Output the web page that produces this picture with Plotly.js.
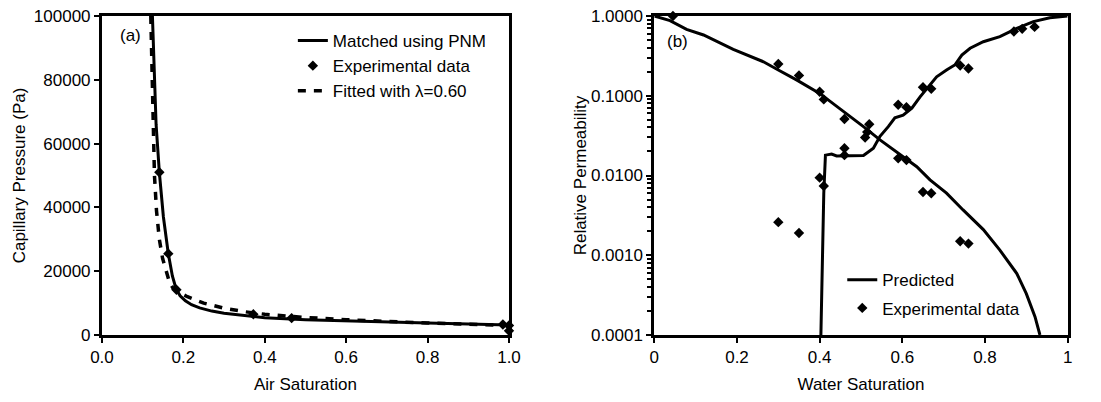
<!DOCTYPE html>
<html><head><meta charset="utf-8">
<script src="https://cdn.plot.ly/plotly-3.0.1.min.js"></script>
<style>body{margin:0;background:#fff}#chart{width:1101px;height:402px}</style>
</head><body><div id="chart"></div>
<script>
// Panel (a): capillary pressure vs air saturation
const pnmSa = [0.124, 0.128, 0.133, 0.141, 0.151, 0.163, 0.173, 0.182, 0.192, 0.205, 0.22, 0.24, 0.27, 0.3, 0.35, 0.4, 0.5, 0.6, 0.7, 0.8, 0.9, 1.0];
const pnmPc = [100000, 82000, 66000, 51000, 37000, 25500, 18500, 14500, 12300, 10700, 9500, 8500, 7500, 6800, 6000, 5400, 4800, 4400, 4100, 3800, 3450, 3100];
const expSa = [0.141, 0.163, 0.183, 0.372, 0.466, 0.985, 1.0, 1.0];
const expPc = [51000, 25500, 14200, 6500, 5300, 3300, 3000, 1300];
const fitSa = [0.120, 0.122, 0.125, 0.129, 0.134, 0.141, 0.149, 0.158, 0.166, 0.175, 0.19, 0.21, 0.25, 0.3, 0.35, 0.4, 0.5, 0.6, 0.7, 0.8, 0.9, 1.0];
const fitPc = [100000, 88000, 70000, 50000, 39000, 30000, 24000, 19500, 16500, 14600, 13300, 12000, 10000, 8400, 7300, 6500, 5500, 4800, 4200, 3750, 3350, 3000];

// Panel (b): relative permeability vs water saturation
const krnwSw = [0.0, 0.038, 0.078, 0.119, 0.191, 0.264, 0.30, 0.344, 0.40, 0.433, 0.465, 0.506, 0.546, 0.586, 0.635, 0.667, 0.707, 0.747, 0.796, 0.836, 0.877, 0.90, 0.921, 0.933];
const krnwKr = [1.0, 0.874, 0.68, 0.578, 0.382, 0.267, 0.21, 0.158, 0.107, 0.080, 0.060, 0.041, 0.028, 0.020, 0.0129, 0.0088, 0.006, 0.0037, 0.0021, 0.00116, 0.00059, 0.00033, 0.00017, 0.0001];
const krwSw = [0.403, 0.41, 0.414, 0.429, 0.441, 0.506, 0.53, 0.546, 0.566, 0.582, 0.602, 0.623, 0.643, 0.663, 0.683, 0.707, 0.727, 0.744, 0.764, 0.796, 0.836, 0.877, 0.917, 0.957, 1.0];
const krwKr = [0.0001, 0.006, 0.018, 0.0186, 0.0176, 0.0178, 0.022, 0.031, 0.041, 0.053, 0.057, 0.070, 0.097, 0.13, 0.173, 0.21, 0.243, 0.324, 0.394, 0.476, 0.55, 0.70, 0.85, 0.95, 1.0];
const expSw = [0.045, 0.30, 0.35, 0.40, 0.41, 0.46, 0.46, 0.46, 0.51, 0.515, 0.52, 0.59, 0.61, 0.59, 0.61, 0.65, 0.67, 0.65, 0.67, 0.74, 0.76, 0.74, 0.76, 0.87, 0.89, 0.92, 0.40, 0.41, 0.30, 0.35];
const expKr = [1.0, 0.25, 0.18, 0.112, 0.090, 0.051, 0.022, 0.018, 0.030, 0.035, 0.044, 0.077, 0.072, 0.0164, 0.0156, 0.128, 0.122, 0.0062, 0.0060, 0.24, 0.22, 0.0015, 0.0014, 0.64, 0.69, 0.73, 0.0094, 0.0074, 0.0026, 0.0019];

const xTicksA = [0, 0.2, 0.4, 0.6, 0.8, 1.0];
const yTicksA = [0, 20000, 40000, 60000, 80000, 100000];
const xTicksB = [0, 0.2, 0.4, 0.6, 0.8, 1];
const yTicksB = [0.0001, 0.001, 0.01, 0.1, 1];
const yTickTextB = ['0.0001', '0.0010', '0.0100', '0.1000', '1.0000'];
const yMinorB = [0.0002,0.0003,0.0004,0.0005,0.0006,0.0007,0.0008,0.0009,
                 0.002,0.003,0.004,0.005,0.006,0.007,0.008,0.009,
                 0.02,0.03,0.04,0.05,0.06,0.07,0.08,0.09,
                 0.2,0.3,0.4,0.5,0.6,0.7,0.8,0.9];

const FONT = 'Liberation Sans, Arial, sans-serif';
const FS = 17;

const traces = [
  {x: pnmSa, y: pnmPc, xaxis: 'x', yaxis: 'y', mode: 'lines', name: 'Matched using PNM',
   line: {color: '#000', width: 3}, legend: 'legend', legendgroup: 'a1'},
  {x: expSa, y: expPc, xaxis: 'x', yaxis: 'y', mode: 'markers', name: 'Experimental data',
   marker: {symbol: 'diamond', size: 8, color: '#000'}, cliponaxis: false, legend: 'legend', legendgroup: 'a2'},
  {x: fitSa, y: fitPc, xaxis: 'x', yaxis: 'y', mode: 'lines', name: 'Fitted with λ=0.60',
   line: {color: '#000', width: 3.5, dash: '8px,8px'}, legend: 'legend', legendgroup: 'a3'},
  {x: krnwSw, y: krnwKr, xaxis: 'x2', yaxis: 'y2', mode: 'lines', name: 'Predicted',
   line: {color: '#000', width: 3}, legend: 'legend2', legendgroup: 'b1'},
  {x: krwSw, y: krwKr, xaxis: 'x2', yaxis: 'y2', mode: 'lines', name: 'Predicted', showlegend: false,
   line: {color: '#000', width: 3}, legend: 'legend2', legendgroup: 'b1'},
  {x: expSw, y: expKr, xaxis: 'x2', yaxis: 'y2', mode: 'markers', name: 'Experimental data',
   marker: {symbol: 'diamond', size: 8, color: '#000'}, cliponaxis: false, legend: 'legend2', legendgroup: 'b2'}
];

const axCommon = {
  showline: true, linewidth: 3, linecolor: '#000', mirror: true,
  ticks: 'outside', ticklen: 5, tickwidth: 2, tickcolor: '#000',
  showgrid: false, zeroline: false,
  tickfont: {family: FONT, size: FS, color: '#000'}
};

const layout = {
  width: 1101, height: 402,
  margin: {l: 0, r: 0, t: 16, b: 67},
  paper_bgcolor: '#fff', plot_bgcolor: '#fff',
  font: {family: FONT, size: FS, color: '#000'},
  xaxis: Object.assign({}, axCommon, {
    domain: [0.0926, 0.4623], anchor: 'y', range: [0, 1],
    tickmode: 'array', tickvals: xTicksA, tickformat: '.1f',
    title: {text: 'Air Saturation', font: {family: FONT, size: FS, color: '#000'}, standoff: 12}
  }),
  yaxis: Object.assign({}, axCommon, {
    domain: [0, 1], anchor: 'x', range: [0, 100000],
    tickmode: 'array', tickvals: yTicksA, tickformat: 'd',
    title: {text: 'Capillary Pressure (Pa)', font: {family: FONT, size: FS, color: '#000'}, standoff: 4}
  }),
  xaxis2: Object.assign({}, axCommon, {
    domain: [0.5943, 0.9697], anchor: 'y2', range: [0, 1],
    tickmode: 'array', tickvals: xTicksB,
    title: {text: 'Water Saturation', font: {family: FONT, size: FS, color: '#000'}, standoff: 12}
  }),
  yaxis2: Object.assign({}, axCommon, {
    domain: [0, 1], anchor: 'x2', type: 'log', range: [-4, 0],
    tickmode: 'array', tickvals: yTicksB, ticktext: yTickTextB,
    minor: {ticks: 'outside', ticklen: 4, tickwidth: 2, tickcolor: '#000', tickmode: 'array', tickvals: yMinorB},
    title: {text: 'Relative Permeability', font: {family: FONT, size: FS, color: '#000'}, standoff: 0}
  }),
  legend: {x: 0.266, y: 0.978, xanchor: 'left', yanchor: 'top', bgcolor: 'rgba(0,0,0,0)',
           font: {family: FONT, size: FS, color: '#000'}, traceorder: 'grouped', tracegroupgap: 0},
  legend2: {x: 0.765, y: 0.228, xanchor: 'left', yanchor: 'top', bgcolor: 'rgba(0,0,0,0)',
           font: {family: FONT, size: FS, color: '#000'}, traceorder: 'grouped', tracegroupgap: 3},
  annotations: [
    {text: '(a)', xref: 'x domain', yref: 'y domain', x: 0.039, y: 0.94, xanchor: 'left', yanchor: 'middle',
     showarrow: false, font: {family: FONT, size: FS, color: '#000'}},
    {text: '(b)', xref: 'x2 domain', yref: 'y2 domain', x: 0.027, y: 0.92, xanchor: 'left', yanchor: 'middle',
     showarrow: false, font: {family: FONT, size: FS, color: '#000'}}
  ],
  showlegend: true
};

Plotly.newPlot('chart', traces, layout, {staticPlot: true, displayModeBar: false});
</script>
</body></html>
